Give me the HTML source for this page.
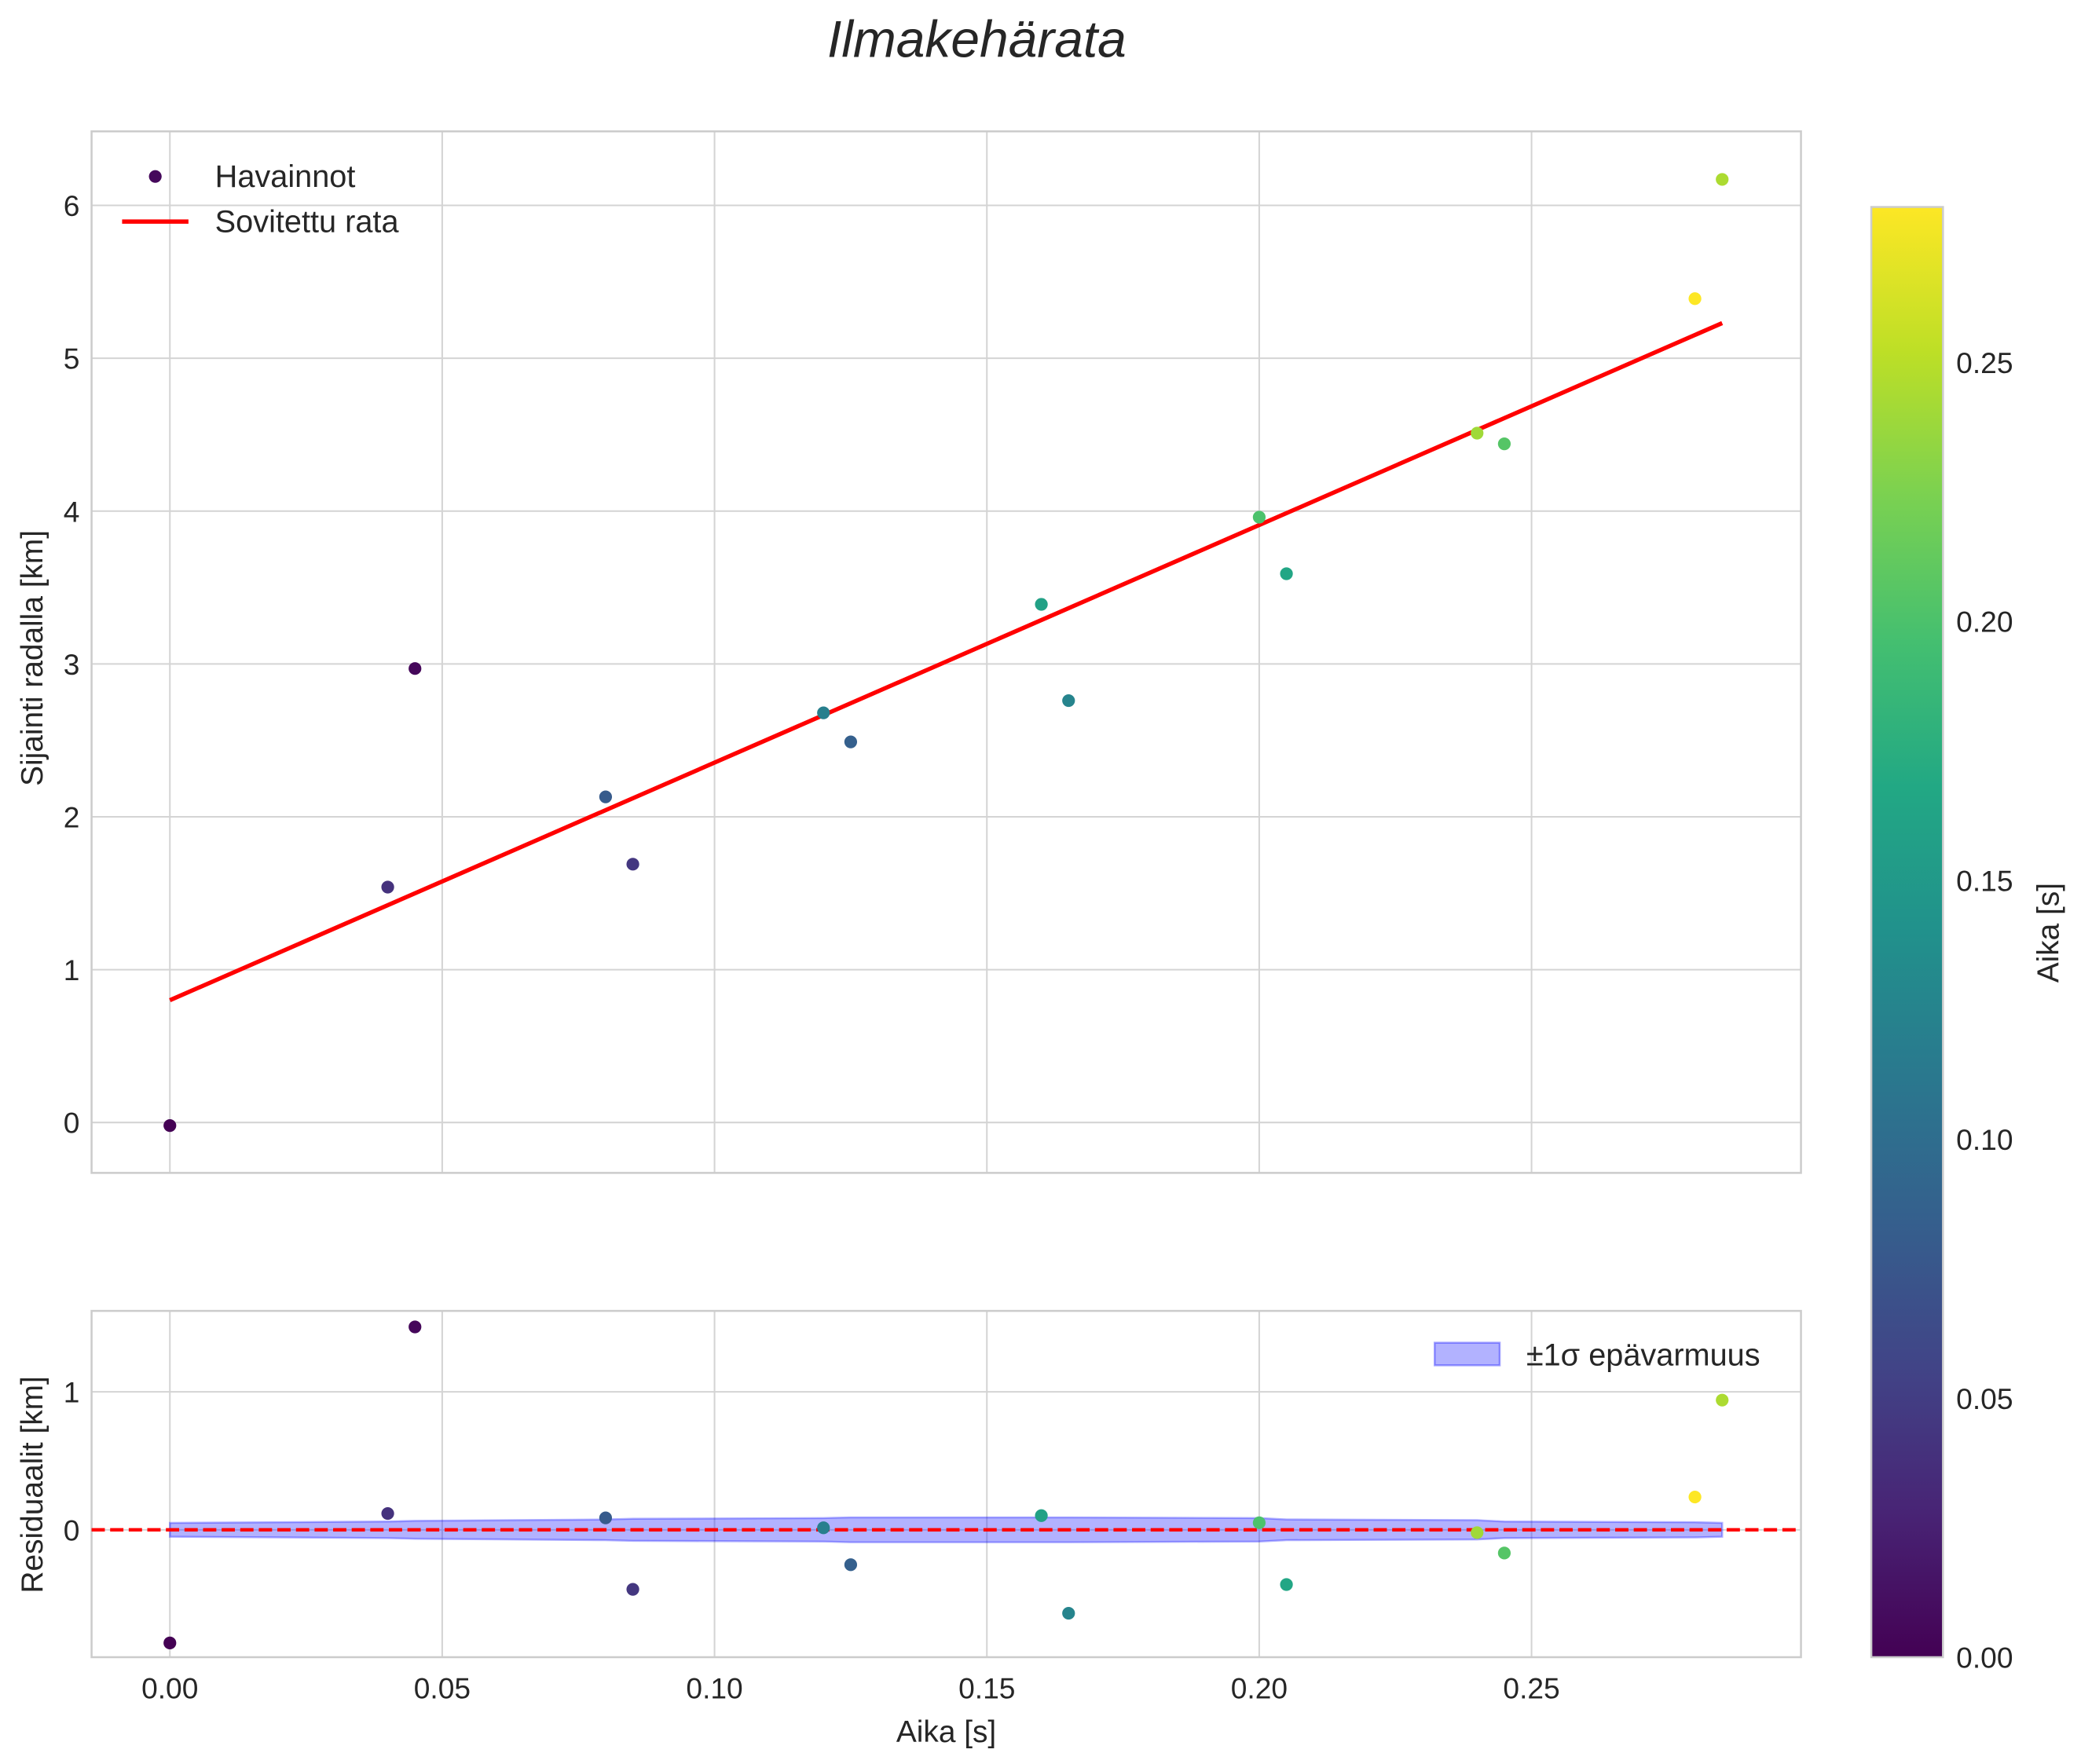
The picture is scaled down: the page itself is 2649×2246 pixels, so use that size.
<!DOCTYPE html>
<html><head><meta charset="utf-8"><style>
html,body{margin:0;padding:0;background:#fff}
svg{display:block}
text{font-family:"Liberation Sans",sans-serif;fill:#262626}
</style></head><body>
<svg id="chart" width="2649" height="2246" viewBox="0 0 1568 1329.5" preserveAspectRatio="none" xmlns="http://www.w3.org/2000/svg">
<defs>
<linearGradient id="vir" x1="0" y1="1" x2="0" y2="0">
<stop offset="0" stop-color="#440154"/><stop offset="0.1" stop-color="#482475"/><stop offset="0.2" stop-color="#414487"/><stop offset="0.3" stop-color="#355f8d"/><stop offset="0.4" stop-color="#2a788e"/><stop offset="0.5" stop-color="#21918c"/><stop offset="0.6" stop-color="#22a884"/><stop offset="0.7" stop-color="#44bf70"/><stop offset="0.8" stop-color="#7ad151"/><stop offset="0.9" stop-color="#bddf26"/><stop offset="1" stop-color="#fde725"/>
</linearGradient>
</defs>
<text x="736" y="43" font-size="39" font-style="italic" text-anchor="middle">Ilmakehärata</text>
<g id="gtop"></g>
<g id="gbot"></g>
<g id="gcbar"></g>
</svg>
<script>
const times=[0,0.04,0.045,0.08,0.085,0.12,0.125,0.16,0.165,0.20,0.205,0.24,0.245,0.28,0.285];
const positions=[-0.02,1.54,2.97,2.13,1.69,2.68,2.49,3.39,2.76,3.96,3.59,4.51,4.44,5.39,6.17];
const colorVals=[0,0.04,0.005,0.08,0.045,0.12,0.085,0.16,0.125,0.20,0.165,0.24,0.205,0.28,0.245];
const sigma=[0.05,0.06,0.065,0.075,0.08,0.085,0.09,0.09,0.09,0.085,0.075,0.07,0.06,0.055,0.05];
const fitStart=[0,0.80];
const fitEnd=[0.285,5.23];
const xTicks=[0,0.05,0.10,0.15,0.20,0.25];
const yTicksTop=[0,1,2,3,4,5,6];
const yTicksBot=[0,1];
const cTicks=[0,0.05,0.10,0.15,0.20,0.25];
const NS='http://www.w3.org/2000/svg';
function mk(tag,attrs,parent,txt){const e=document.createElementNS(NS,tag);for(const k in attrs)e.setAttribute(k,attrs[k]);if(txt!==undefined)e.textContent=txt;parent.appendChild(e);return e;}
const L=69,R=1357;
const TF=22,LF=23,GF=23.5;
const X=v=>128+(v-0)*4104;
const Yt=v=>846-v*115.2;
const Yb=v=>1153-v*104;
const vstops=[[68,1,84],[72,36,117],[65,68,135],[53,95,141],[42,120,142],[33,145,140],[34,168,132],[68,191,112],[122,209,81],[189,223,38],[253,231,37]];
const voff=[0,.1,.2,.3,.4,.5,.6,.7,.8,.9,1];
function vir(t){t=Math.max(0,Math.min(1,t));let i=0;while(i<voff.length-2&&t>voff[i+1])i++;const f=(t-voff[i])/(voff[i+1]-voff[i]);const a=vstops[i],b=vstops[i+1];return 'rgb('+a.map((c,k)=>Math.round(c+(b[k]-c)*f)).join(',')+')';}
const cmax=0.28;
const fit=t=>fitStart[1]+(fitEnd[1]-fitStart[1])/(fitEnd[0]-fitStart[0])*(t-fitStart[0]);
const gTop=document.getElementById('gtop'),gBot=document.getElementById('gbot'),gCb=document.getElementById('gcbar');
// top axes
xTicks.forEach(v=>{const g=mk('line',{x1:X(v),x2:X(v),y1:99,y2:884,stroke:'#d4d4d4','stroke-width':1.2},gTop);

});
yTicksTop.forEach(v=>{const g=mk('line',{x1:L,x2:R,y1:Yt(v),y2:Yt(v),stroke:'#d4d4d4','stroke-width':1.2},gTop);


const t=mk('text',{x:60,y:Yt(v)+8,'font-size':TF,'text-anchor':'end'},gTop,String(v));

});
let fr=mk('rect',{x:L,y:99,width:R-L,height:785,fill:'none',stroke:'#cccccc','stroke-width':1.5},gTop);


let fl=mk('line',{x1:X(fitStart[0]),y1:Yt(fitStart[1]),x2:X(fitEnd[0]),y2:Yt(fitEnd[1]),stroke:'#ff0000','stroke-width':3.2},gTop);


times.forEach((t,i)=>{const c=mk('circle',{cx:X(t),cy:Yt(positions[i]),r:4.8,fill:vir(colorVals[i]/cmax)},gTop);

});
let yl=mk('text',{x:0,y:0,'font-size':LF,'text-anchor':'middle',transform:'translate(32,496) rotate(-90)'},gTop,'Sijainti radalla [km]');


let lg=mk('g',{},gTop);


let lm=mk('circle',{cx:117,cy:133,r:4.8,fill:vir(0.02)},lg);


let lt=mk('text',{x:162,y:141,'font-size':GF},lg,'Havainnot');


let ll=mk('line',{x1:92,x2:142,y1:167,y2:167,stroke:'#ff0000','stroke-width':3.2},lg);


let lt2=mk('text',{x:162,y:175,'font-size':GF},lg,'Sovitettu rata');


// bottom axes
xTicks.forEach(v=>{const g=mk('line',{x1:X(v),x2:X(v),y1:988,y2:1249,stroke:'#d4d4d4','stroke-width':1.2},gBot);


const t=mk('text',{x:X(v),y:1280,'font-size':TF,'text-anchor':'middle'},gBot,v.toFixed(2));

});
yTicksBot.forEach(v=>{const g=mk('line',{x1:L,x2:R,y1:Yb(v),y2:Yb(v),stroke:'#d4d4d4','stroke-width':1.2},gBot);


const t=mk('text',{x:60,y:Yb(v)+8,'font-size':TF,'text-anchor':'end'},gBot,String(v));

});
let fr2=mk('rect',{x:L,y:988,width:R-L,height:261,fill:'none',stroke:'#cccccc','stroke-width':1.5},gBot);


let up=times.map((t,i)=>X(t)+','+Yb(sigma[i])),dn=times.map((t,i)=>X(t)+','+Yb(-sigma[i])).reverse();
let band=mk('polygon',{points:up.concat(dn).join(' '),fill:'rgba(0,0,255,0.3)',stroke:'rgba(0,0,255,0.3)','stroke-width':1.5},gBot);


let zl=mk('line',{x1:L,x2:R,y1:Yb(0),y2:Yb(0),stroke:'#ff0000','stroke-width':2.6,'stroke-dasharray':'10,4'},gBot);


times.forEach((t,i)=>{const c=mk('circle',{cx:X(t),cy:Yb(positions[i]-fit(t)),r:4.8,fill:vir(colorVals[i]/cmax)},gBot);

});
let yl2=mk('text',{x:0,y:0,'font-size':LF,'text-anchor':'middle',transform:'translate(32,1119) rotate(-90)'},gBot,'Residuaalit [km]');


let xl=mk('text',{x:713,y:1313,'font-size':LF,'text-anchor':'middle'},gBot,'Aika [s]');


let lg2=mk('g',{},gBot);


let lp=mk('rect',{x:1081,y:1012,width:49,height:17,fill:'rgba(0,0,255,0.3)',stroke:'rgba(0,0,255,0.35)','stroke-width':1.5},lg2);


let lt3=mk('text',{x:1150,y:1029,'font-size':GF},lg2,'±1σ epävarmuus');


// colorbar
const CB0=1249,CBT=156;const C=v=>CB0-(v/cmax)*(CB0-CBT);
let cr=mk('rect',{x:1410,y:CBT,width:54,height:CB0-CBT,fill:'url(#vir)',stroke:'#cccccc','stroke-width':1.5},gCb);


cTicks.forEach(v=>{const t=mk('text',{x:1474,y:C(v)+8,'font-size':TF},gCb,v.toFixed(2));

});
let cl=mk('text',{x:0,y:0,'font-size':LF,'text-anchor':'middle',transform:'translate(1551,703) rotate(-90)'},gCb,'Aika [s]');


</script>
</body></html>
